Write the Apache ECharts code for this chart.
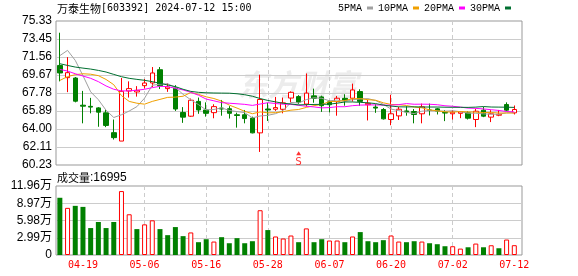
<!DOCTYPE html>
<html><head><meta charset="utf-8">
<script src="https://cdn.jsdelivr.net/npm/echarts@6/dist/echarts.min.js"></script>
<style>html,body{margin:0;padding:0;background:#fff}#c{width:578px;height:276px}</style>
</head><body><div id="c"></div>
<script>
const stockName = '万泰生物';
const stockInfo = '[603392] 2024-07-12 15:00';
const dates = ['04-16','04-17','04-18','04-19','04-22','04-23','04-24','04-25','04-26','04-29','04-30',
'05-06','05-07','05-08','05-09','05-10','05-13','05-14','05-15','05-16','05-17','05-20','05-21','05-22','05-23','05-24','05-27','05-28','05-29','05-30','05-31',
'06-03','06-04','06-05','06-06','06-07','06-11','06-12','06-13','06-14','06-17','06-18','06-19','06-20','06-21','06-24','06-25','06-26','06-27','06-28',
'07-01','07-02','07-03','07-04','07-05','07-08','07-09','07-10','07-11','07-12'];
const opens = [70.67,69.39,69.35,66.50,66.38,66.22,65.70,63.62,62.74,67.99,67.89,68.55,68.83,70.22,68.24,68.30,65.74,65.35,66.90,66.00,
65.72,66.20,66.13,65.50,65.50,65.15,63.60,66.10,66.08,66.07,67.25,67.40,66.62,67.48,67.37,66.85,66.88,67.22,67.23,67.93,
66.55,66.30,66.05,65.00,65.38,65.90,65.84,65.60,66.00,66.12,65.73,65.60,65.65,65.70,65.00,65.98,65.25,65.45,66.57,65.70];
const closes = [69.88,69.91,66.92,66.40,66.30,65.77,64.38,63.10,67.96,68.24,68.06,68.83,69.88,68.55,68.41,66.10,65.25,67.02,66.00,65.65,
66.35,66.10,65.65,65.42,65.10,63.60,67.10,66.00,66.25,66.75,67.85,66.82,67.77,67.22,66.45,66.55,67.23,67.03,68.10,66.90,
66.70,66.20,65.07,65.60,66.08,65.80,65.53,66.33,65.95,65.88,65.68,65.77,65.80,65.14,65.87,65.35,65.60,65.55,65.98,66.05];
const lows = [69.00,67.87,66.80,64.60,65.65,64.24,64.20,62.90,62.74,67.30,67.40,68.24,68.40,68.20,67.90,65.90,64.65,65.28,65.60,65.30,
65.13,65.40,65.10,64.15,64.60,63.55,61.60,64.85,65.90,65.65,66.78,66.60,66.35,66.76,65.80,65.75,65.40,66.45,66.88,66.43,
64.90,65.70,65.00,64.40,64.95,65.40,64.60,64.60,65.42,65.53,64.83,65.00,65.14,65.00,64.20,65.25,64.73,65.35,65.87,65.53];
const highs = [74.10,71.54,69.45,68.00,67.27,66.30,66.00,65.00,69.35,69.00,68.50,69.25,70.50,70.50,68.80,68.60,66.30,67.20,67.30,66.80,
66.60,67.05,66.40,65.72,66.00,65.30,69.70,66.76,67.37,67.30,67.95,67.55,69.83,68.24,67.50,67.00,67.47,67.65,68.76,68.17,
67.05,66.60,66.20,67.60,66.33,66.40,66.10,66.67,66.67,66.22,65.98,65.98,65.87,65.87,66.12,66.33,65.98,66.00,66.80,66.47];
const volumes = [9.92,8.17,8.52,8.34,4.67,5.72,4.67,5.72,11.08,7.06,4.49,5.31,6.01,4.49,3.44,4.84,3.27,3.91,2.22,2.74,
2.33,3.09,2.04,2.92,2.04,2.39,7.76,4.32,3.21,2.86,3.38,2.22,4.61,2.22,2.74,2.51,2.51,2.22,3.21,3.97,
2.39,2.22,2.57,3.38,2.33,2.22,2.39,2.33,2.04,1.87,1.52,1.52,1.11,1.34,1.98,1.34,1.69,1.17,2.68,1.6995];
const ma5 = [71.70,72.25,71.20,69.60,67.90,67.08,65.97,65.21,65.50,65.89,66.35,67.24,68.59,68.71,68.75,68.35,67.64,67.07,66.56,66.00,
66.05,66.22,65.95,65.83,65.72,65.17,65.37,65.44,65.61,65.94,66.79,66.73,67.09,67.28,67.22,66.96,67.04,66.90,67.07,67.16,
67.19,66.99,66.59,66.09,65.93,65.75,65.62,65.87,65.94,65.90,65.87,65.92,65.82,65.66,65.66,65.59,65.56,65.55,65.71,65.71];
const ma10 = [69.10,69.50,69.70,69.80,69.75,69.60,69.20,68.65,67.50,66.90,66.71,66.61,66.90,67.11,67.32,67.35,67.44,67.83,67.63,67.38,
67.20,66.93,66.51,66.20,65.86,65.61,65.80,65.70,65.72,65.83,65.98,66.05,66.27,66.45,66.58,66.88,66.89,66.99,67.18,67.19,
67.08,67.02,66.75,66.58,66.55,66.47,66.30,66.23,66.02,65.91,65.81,65.77,65.84,65.80,65.78,65.73,65.74,65.68,65.68,65.69];
const ma20 = [70.25,70.08,69.80,69.56,69.32,68.97,68.52,68.17,68.00,68.00,68.07,68.17,68.34,68.48,68.45,68.27,68.10,67.85,67.55,67.14,
66.96,66.77,66.71,66.65,66.59,66.48,66.62,66.76,66.68,66.60,66.59,66.49,66.39,66.32,66.22,66.25,66.34,66.34,66.45,66.51,
66.53,66.53,66.51,66.51,66.56,66.67,66.60,66.61,66.60,66.55,66.44,66.39,66.30,66.20,66.17,66.11,66.03,65.95,65.84,65.80];
const ma30 = [70.85,70.67,70.50,70.39,70.29,70.15,69.98,69.73,69.49,69.32,69.21,69.11,68.97,68.80,68.62,68.45,68.17,67.95,67.85,67.80,
67.78,67.77,67.76,67.70,67.60,67.44,67.20,67.00,66.85,66.70,66.63,66.53,66.56,66.58,66.59,66.61,66.71,66.84,66.84,66.80,
66.75,66.67,66.51,66.41,66.33,66.32,66.33,66.31,66.31,66.31,66.29,66.28,66.28,66.27,66.30,66.36,66.31,66.30,66.29,66.27];
const maNames = ['5PMA','10PMA','20PMA','30PMA'];
const yTickLabels = ['60.23','62.11','64.00','65.89','67.78','69.67','71.56','73.45','75.33'];
const volTickLabels = ['0','2.99万','5.98万','8.97万','11.96万'];
const xLabelDates = ['04-19','05-06','05-16','05-28','06-07','06-20','07-02','07-12'];
const signals = [{date:'06-03', text:'S'}];

const chart = echarts.init(document.getElementById('c'), null, {renderer:'canvas'});
const yTicks = yTickLabels.map(Number);
const volStep = Number(volTickLabels[1].replace('万',''));
const volMax = Number(volTickLabels[volTickLabels.length-1].replace('万',''));
const xTicks = xLabelDates.map(d => dates.indexOf(d));
const candleData = dates.map((d,i) => [i, opens[i], closes[i], lows[i], highs[i]]);
const volData = volumes.map((v,i) => {
  const ref = i > 0 ? closes[i-1] : opens[i];
  const up = closes[i] > ref;
  return {value:[i, v], itemStyle: up ? {color:'#fff', borderColor:'#ff0000', borderWidth:1} : {color:'#008000', borderColor:'#008000', borderWidth:0}};
});
const lastVol = Math.round(volumes[volumes.length-1]*10000);
const maColors = ['#a0a0a0','#f0a000','#ff00ff','#006f30'];
const maData = [ma5, ma10, ma20, ma30];
const monoFont = 'DejaVu Sans Mono';
const labelFont = '"Liberation Sans", "Noto Sans CJK SC"';

const xBase = {type:'value', min:-0.5, max:dates.length, axisLine:{show:false},
  axisTick:{show:false, customValues:xTicks},
  splitLine:{show:true, showMinLine:false, showMaxLine:false, lineStyle:{color:'#cccccc', type:[4,3], width:1}}};

chart.setOption({
  animation:false,
  backgroundColor:'#fff',
  title:[
    {text:'{a|'+stockName+'}{b|'+stockInfo+'}', left:57, top:2, padding:0,
     textStyle:{fontWeight:'normal', rich:{a:{fontFamily:'"Noto Sans CJK SC"', fontWeight:'normal', fontSize:11, color:'#000', lineHeight:13},
                      b:{fontFamily:monoFont, fontWeight:'normal', fontSize:10, color:'#000', lineHeight:13}}}},
    {text:'{a|成交量}{b|:'+lastVol+'}', left:57, top:171, padding:0,
     textStyle:{fontWeight:'normal', rich:{a:{fontFamily:'"Noto Sans CJK SC"', fontWeight:'normal', fontSize:11, color:'#000', lineHeight:13},
                      b:{fontFamily:'"Liberation Sans"', fontWeight:'normal', fontSize:12, color:'#000', lineHeight:13}}}}
  ],
  legend:{data:maNames, left:338, top:3, padding:0, align:'right', icon:'rect', itemWidth:6, itemHeight:3, itemGap:5,
    textStyle:{fontFamily:'"Liberation Mono"', fontSize:10, color:'#000'}},
  graphic:[{type:'text', left:238, top:70, z:-10, silent:true,
    style:{text:'东方财富', font:'italic bold 30px "Noto Sans CJK SC"', fill:'#ececec'}}],
  grid:[
    {left:56, top:21, width:466, height:144, show:true, borderColor:'#999', borderWidth:1, backgroundColor:'transparent'},
    {left:56, top:186, width:466, height:69, show:true, borderColor:'#999', borderWidth:1, backgroundColor:'transparent'}
  ],
  xAxis:[
    Object.assign({gridIndex:0, axisLabel:{show:false, customValues:xTicks}}, xBase),
    Object.assign({gridIndex:1, axisLabel:{show:true, customValues:xTicks, color:'#ff0000', fontFamily:monoFont, fontSize:10, margin:5,
      formatter:v => dates[Math.round(v)] || ''}}, xBase)
  ],
  yAxis:[
    {gridIndex:0, type:'value', min:yTicks[0], max:yTicks[yTicks.length-1], axisLine:{show:false},
     axisTick:{show:false, customValues:yTicks},
     axisLabel:{customValues:yTicks, color:'#000', fontFamily:labelFont, fontSize:12, margin:4,
       formatter:v => { let k=0, b=1e9; yTicks.forEach((t,j)=>{ if (Math.abs(t-v)<b){b=Math.abs(t-v);k=j;} }); return yTickLabels[k]; }},
     splitLine:{show:true, showMinLine:false, showMaxLine:false, lineStyle:{color:'#cccccc', width:1}}},
    {gridIndex:1, type:'value', min:0, max:volMax, interval:volStep, axisLine:{show:false}, axisTick:{show:false},
     axisLabel:{color:'#000', fontFamily:labelFont, fontSize:12, margin:4,
       formatter:v => volTickLabels[Math.round(v/volStep)]},
     splitLine:{show:true, showMinLine:false, showMaxLine:false, lineStyle:{color:'#cccccc', width:1}}}
  ],
  series:[
    {type:'candlestick', xAxisIndex:0, yAxisIndex:0, data:candleData, encode:{x:0, y:[1,2,3,4]}, barWidth:5,
     itemStyle:{color:'#ffffff', color0:'#008000', borderColor:'#ff0000', borderColor0:'#008000', borderWidth:1}},
    ...maNames.map((n,k) => ({type:'line', name:n, xAxisIndex:0, yAxisIndex:0, data:maData[k].map((v,i)=>[i,v]),
      showSymbol:false, symbol:'none', color:maColors[k], lineStyle:{width:1, color:maColors[k]}, z:3})),
    {type:'bar', xAxisIndex:1, yAxisIndex:1, data:volData, barWidth:5},
    {type:'scatter', xAxisIndex:0, yAxisIndex:0, symbol:'triangle', symbolSize:[5,4], itemStyle:{color:'#ff0000'},
     data:signals.map(s => ({value:[dates.indexOf(s.date), 61.45], name:s.text})),
     label:{show:true, position:'bottom', distance:1, formatter:p => p.name, color:'#ff0000', fontFamily:monoFont, fontSize:11}}
  ]
});
</script></body></html>
